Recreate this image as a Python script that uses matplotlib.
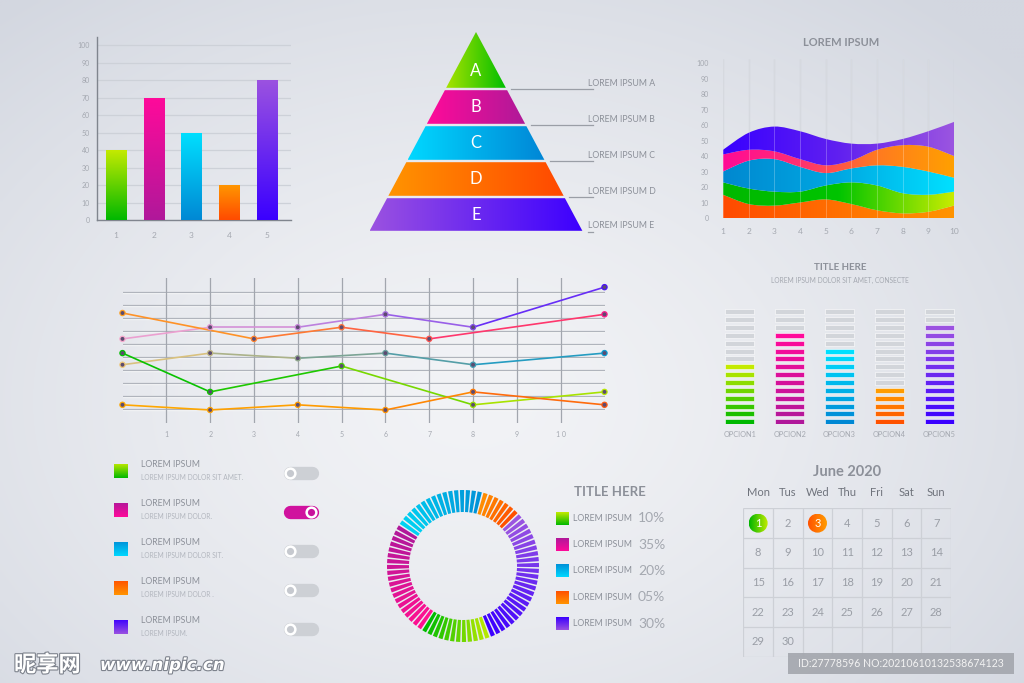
import numpy as np
import matplotlib
matplotlib.use('Agg')
import matplotlib.pyplot as plt
from matplotlib.colors import LinearSegmentedColormap, to_rgb
from matplotlib.patches import Polygon, Rectangle, PathPatch, Circle
from matplotlib.path import Path
from matplotlib.collections import LineCollection
import matplotlib.patheffects as pe

plt.rcParams['font.family'] = ['Lato', 'DejaVu Sans']

# ---------------- data ----------------
bar_cats = [1, 2, 3, 4, 5]
bar_vals = [40, 70, 50, 20, 80]

pyr_letters = ['A', 'B', 'C', 'D', 'E']
pyr_labels = ['LOREM IPSUM A', 'LOREM IPSUM B', 'LOREM IPSUM C', 'LOREM IPSUM D', 'LOREM IPSUM E']

stream_x = [1, 2, 3, 4, 5, 6, 7, 8, 9, 10]
stream_red = [15, 9, 8, 10, 12, 9, 5, 3, 4, 8]
stream_green = [8, 10, 9, 7, 9, 14, 16, 13, 11, 9]
stream_blue = [7, 18, 21, 16, 8, 9, 13, 17, 15, 9]
stream_pink = [11, 7, 5, 5, 5, 5, 10, 14, 16, 14]
stream_violet = [3, 11, 16, 18, 17, 11, 4, 4, 10, 22]

line_ticks = [1, 2, 3, 4, 5, 6, 7, 8, 9, 10]
line_tick_labels = ['1', '2', '3', '4', '5', '6', '7', '8', '9', '1 0']
l1_x = [0, 2, 4, 6, 8, 11]
l1_y = [6.4, 7.3, 7.3, 8.3, 7.3, 10.4]
l2_x = [0, 3, 5, 7, 11]
l2_y = [8.4, 6.4, 7.3, 6.4, 8.3]
l3_x = [0, 2, 4, 6, 8, 11]
l3_y = [4.4, 5.3, 4.9, 5.3, 4.4, 5.3]
l4_x = [0, 2, 5, 8, 11]
l4_y = [5.3, 2.3, 4.3, 1.3, 2.3]
l5_x = [0, 2, 4, 6, 8, 11]
l5_y = [1.3, 0.9, 1.3, 0.9, 2.3, 1.3]

eq_labels = ['OPCION1', 'OPCION2', 'OPCION3', 'OPCION4', 'OPCION5']
eq_filled = [8, 12, 10, 5, 13]
eq_rows = 15

list_titles = ['LOREM IPSUM'] * 5
list_subs = ['LOREM IPSUM DOLOR SIT AMET.', 'LOREM IPSUM DOLOR.', 'LOREM IPSUM DOLOR SIT.',
             'LOREM IPSUM DOLOR .', 'LOREM IPSUM.']
list_on = [False, True, False, False, False]

# ring segments, clockwise from ~1 o'clock: orange, violet, green, magenta, cyan
donut_counts = [7, 25, 12, 20, 16]
donut_labels = ['LOREM IPSUM'] * 5
donut_pcts = [10, 35, 20, 5, 30]

cal_title = 'June 2020'
cal_heads = ['Mon', 'Tus', 'Wed', 'Thu', 'Fri', 'Sat', 'Sun']
cal_days = 30
cal_marked = {1: ['#00b400', '#c4ec00'], 3: ['#ff5200', '#ff9c00']}

# ---------------- colours (bottom/left first) ----------------
GREEN = ['#00b800', '#c4ea00']
MAGENTA = ['#b0189a', '#ff0a9a']
BLUE = ['#0088d4', '#00e0ff']
ORANGE = ['#ff4a00', '#ff9600']
VIOLET = ['#3a00ff', '#9b52e0']
TXT = '#8c9099'
LIGHT = '#a4a8b0'

W, H = 1024, 683
fig = plt.figure(figsize=(W / 100, H / 100), dpi=100)


def box(x0, y0, x1, y1, **kw):
    return fig.add_axes([x0 / W, 1 - y1 / H, (x1 - x0) / W, (y1 - y0) / H], **kw)


def ftext(x, y, s, **kw):
    return fig.text(x / W, 1 - y / H, s, **kw)


def cmap_of(colors):
    return LinearSegmentedColormap.from_list('c', colors)


def grad(ax, clip, colors, extent, horizontal=False, z=3):
    g = np.linspace(0, 1, 256)
    arr = g[None, :] if horizontal else g[:, None]
    im = ax.imshow(arr, cmap=cmap_of(colors), extent=extent, origin='lower',
                   aspect='auto', interpolation='bilinear', zorder=z)
    im.set_clip_path(clip)
    return im


# background
bg = fig.add_axes([0, 0, 1, 1], zorder=-10)
yy, xx = np.mgrid[0:H:4, 0:W:4]
d = np.clip(np.sqrt(((xx - 470) / 720) ** 2 + ((yy - 400) / 520) ** 2), 0, 1)
c_in, c_out = np.array(to_rgb('#f2f3f6')), np.array(to_rgb('#d3d7e0'))
bg.imshow(c_in + (c_out - c_in) * (d[..., None] ** 1.4), extent=[0, W, H, 0],
          aspect='auto', interpolation='bilinear')
bg.set_xlim(0, W)
bg.set_ylim(H, 0)
bg.axis('off')

# ---------------- bar chart ----------------
ax1 = box(97, 37, 291, 220)
ax1.patch.set_alpha(0)
bars = ax1.bar(bar_cats, bar_vals, width=0.53, color='none', zorder=3)
for b, cols in zip(bars, [GREEN, MAGENTA, BLUE, ORANGE, VIOLET]):
    grad(ax1, b, cols, [b.get_x(), b.get_x() + b.get_width(), 0, b.get_height()])
ax1.set_xlim(0.497, 5.636)
ax1.set_ylim(0, 104.6)
ax1.set_yticks(range(0, 101, 10))
ax1.set_xticks(bar_cats)
ax1.yaxis.grid(True, color='#cdd1d8', lw=0.9)
ax1.set_axisbelow(True)
for s in ['top', 'right']:
    ax1.spines[s].set_visible(False)
for s in ['left', 'bottom']:
    ax1.spines[s].set_color('#80858e')
    ax1.spines[s].set_linewidth(1.0)
ax1.tick_params(length=0, labelsize=5, labelcolor=LIGHT, pad=5)
ax1.tick_params(axis='x', pad=9, labelsize=6)

# ---------------- pyramid ----------------
ax2 = box(369, 32, 583, 232)
ax2.axis('off')
edges = [0, 0.285, 0.465, 0.645, 0.825, 1.0]
pyr_cols = [['#a8e200', '#00be00'], ['#ff0a9a', '#ae1a98'], ['#00d8ff', '#0086d6'],
            ['#ff9400', '#ff4800'], ['#9b52e0', '#3c00ff']]
for i, (L, lab) in enumerate(zip(pyr_letters, pyr_labels)):
    t = edges[i] + (0.006 if i else 0)
    b = edges[i + 1] - 0.006
    poly = Polygon([(-t, t), (t, t), (b, b), (-b, b)], closed=True, fc='none', ec='none')
    ax2.add_patch(poly)
    grad(ax2, poly, pyr_cols[i], [-b, b, b, t], horizontal=True)
    yc = 0.195 if i == 0 else (edges[i] + edges[i + 1]) / 2
    ax2.text(0, yc, L, color='white', fontsize=12, ha='center', va='center', zorder=5)
    ye = edges[i + 1]
    ax2.plot([ye + 0.045, 1.093], [ye, ye], color='#9a9ea6', lw=0.9, clip_on=False)
    ax2.text(1.047, ye - 0.03, lab, color=TXT, fontsize=6.3, ha='left', va='center')
ax2.set_xlim(-1, 1)
ax2.set_ylim(1, 0)

# ---------------- stream chart ----------------
ax3 = box(723, 59, 954, 218)
ax3.patch.set_alpha(0)


def smooth_band(xs, lo, hi):
    def bez(px, py):
        pts = np.column_stack([px, py]).astype(float)
        n = len(pts)
        out = [pts[0]]
        for i in range(n - 1):
            p0, p1 = pts[max(i - 1, 0)], pts[i]
            p2, p3 = pts[i + 1], pts[min(i + 2, n - 1)]
            out += [p1 + (p2 - p0) / 6, p2 - (p3 - p1) / 6, p2]
        return out
    up = bez(xs, hi)
    dn = bez(xs[::-1], lo[::-1])
    verts = up + dn + [up[0]]
    codes = ([Path.MOVETO] + [Path.CURVE4] * (len(up) - 1) + [Path.LINETO] +
             [Path.CURVE4] * (len(dn) - 1) + [Path.CLOSEPOLY])
    return Path(verts, codes)


ax3.vlines(stream_x, 0, 102.6, color='#c9cdd5', lw=0.9, zorder=1)
layers = [stream_red, stream_green, stream_blue, stream_pink, stream_violet]
layer_cols = [['#ff4a00', '#ff7000', '#ff9400'],
              ['#00b800', '#00c400', '#c8ec00'],
              ['#0088d0', '#00a8e2', '#00e0ff'],
              ['#ff0a96', '#ff3070', '#ff7a20', '#ffa000'],
              ['#3800ff', '#6020f0', '#9b55e0']]
xs = np.array(stream_x, float)
base = np.zeros(len(xs))
for vals, cols in zip(layers, layer_cols):
    top = base + np.array(vals, float)
    patch = PathPatch(smooth_band(xs, base, top), fc='none', ec='none')
    ax3.add_patch(patch)
    grad(ax3, patch, cols, [1, 10, 0, 70], horizontal=True, z=2)
    base = top
ax3.vlines(stream_x, 0, 102.6, color='white', lw=0.7, alpha=0.25, zorder=4)
ax3.set_xlim(1, 10)
ax3.set_ylim(0, 102.6)
ax3.set_yticks(range(0, 101, 10))
ax3.set_xticks(stream_x)
for s in ax3.spines.values():
    s.set_visible(False)
ax3.tick_params(length=0, labelsize=5, labelcolor=LIGHT, pad=10)
ax3.tick_params(axis='x', labelsize=6, pad=7)
ftext(841, 43, 'LOREM IPSUM', fontsize=8, fontweight='bold', color=TXT, ha='center', va='center')

# ---------------- line chart ----------------
ax4 = box(122.5, 278, 604.5, 423)
ax4.patch.set_alpha(0)
for yv in range(1, 11):
    ax4.axhline(yv - 0.09, color='white', lw=0.9, alpha=0.8, zorder=1)
    ax4.axhline(yv, color='#b0b4bc', lw=0.9, zorder=1)
for xv in line_ticks:
    ax4.axvline(xv, color='#a2a6ae', lw=0.9, zorder=1)
series = [(l1_x, l1_y, ['#f7a8cc', '#b67ce0', '#4a10ff']),
          (l2_x, l2_y, ['#ffa020', '#ff6a3a', '#ff1a8a']),
          (l3_x, l3_y, ['#f0c878', '#70a098', '#0a9ad0']),
          (l4_x, l4_y, ['#00c000', '#20c800', '#90dc00', '#b8e800']),
          (l5_x, l5_y, ['#ffaa00', '#ff9800', '#ff5a10'])]
for sx, sy, cols in series:
    cm = cmap_of(cols)
    pts = np.column_stack([sx, sy])
    segs = np.stack([pts[:-1], pts[1:]], axis=1)
    mids = (pts[:-1, 0] + pts[1:, 0]) / 2 / 11
    ax4.add_collection(LineCollection(segs, colors=cm(mids), lw=1.2, zorder=3, clip_on=False))
    ax4.scatter(sx, sy, s=14, c='#5c4b70', edgecolors=cm(np.array(sx) / 11), linewidths=0.9,
                zorder=4, clip_on=False)
ax4.set_xlim(0, 11)
ax4.set_ylim(-0.106, 11.108)
ax4.set_xticks(line_ticks, line_tick_labels)
ax4.set_yticks([])
for s in ax4.spines.values():
    s.set_visible(False)
ax4.tick_params(length=0, labelsize=5, labelcolor=LIGHT, pad=6)

# ---------------- equalizer bars ----------------
ax5 = box(715, 309.3, 964, 424.3)
ax5.patch.set_alpha(0)
eq_cols = [GREEN, MAGENTA, BLUE, ['#ff5200', '#ff9c00'], VIOLET]
for i, (n, cols) in enumerate(zip(eq_filled, eq_cols)):
    cm = cmap_of(cols)
    colors = [cm(k / (n - 1)) if k < n else '#d2d5da' for k in range(eq_rows)]
    ax5.bar([i] * eq_rows, [0.64] * eq_rows, bottom=list(range(eq_rows)), width=0.58,
            color=colors, edgecolor='white', lw=0.4)
ax5.set_xlim(-0.5, 4.5)
ax5.set_ylim(0, 14.64)
ax5.set_xticks(range(5), eq_labels)
ax5.set_yticks([])
for s in ax5.spines.values():
    s.set_visible(False)
ax5.tick_params(length=0, labelsize=5.3, labelcolor=LIGHT, pad=5)
ftext(840, 268, 'TITLE HERE', fontsize=7, fontweight='bold', color=TXT, ha='center', va='center')
ftext(840, 280, 'LOREM IPSUM DOLOR SIT AMET, CONSECTE', fontsize=4.8, color=LIGHT,
      ha='center', va='center')

# ---------------- list with toggles ----------------
ax6 = box(100, 455, 350, 645)
ax6.axis('off')
sq_cols = [GREEN, ['#ff0a9a', '#b0189a'], ['#00d8ff', '#0090d8'], ['#ff9400', '#ff5000'],
           ['#9b52e0', '#3a00ff']]
for k in range(5):
    sq = Rectangle((114, k - 0.18), 14, 0.36, fc='none', ec='none')
    ax6.add_patch(sq)
    grad(ax6, sq, sq_cols[k], [114, 128, k + 0.18, k - 0.18])
    ax6.text(140.7, k - 0.16, list_titles[k], fontsize=6.3, color=TXT, va='center')
    ax6.text(140.7, k + 0.17, list_subs[k], fontsize=4.8, color='#b2b6be', va='center')
    yt = k + 0.07
    on = list_on[k]
    ax6.plot([290, 311.7], [yt, yt], lw=9.6, solid_capstyle='round',
             color='#d0129e' if on else '#cdd0d5')
    ax6.plot([311 if on else 289.5], [yt], 'o', ms=7, mfc='#c8129c' if on else '#c6c9cf',
             mec='white', mew=1.8)
ax6.set_xlim(100, 350)
ax6.set_ylim(4.47, -0.403)

# ---------------- donut ----------------
ax7 = box(386, 489, 540, 643, projection='polar')
ax7.set_theta_zero_location('N')
ax7.set_theta_direction(-1)
ring_cols = [['#ff8c00', '#ff5000'], ['#9b55e0', '#3c00ff'], ['#b4e800', '#00bc00'],
             ['#ff1090', '#b0189a'], ['#00d2f2', '#0094d8']]
n_seg = sum(donut_counts)
step = 2 * np.pi / n_seg
start = np.deg2rad(15)
thetas, cols = [], []
k = 0
for cnt, cp in zip(donut_counts, ring_cols):
    cm = cmap_of(cp)
    for j in range(cnt):
        thetas.append(start + (k + 0.5) * step)
        cols.append(cm(j / (cnt - 1)))
        k += 1
ax7.bar(thetas, 22, width=step * 0.72, bottom=54, color=cols, edgecolor='none')
ax7.set_ylim(0, 77)
ax7.axis('off')

# donut legend
ax8 = box(550, 500, 680, 640)
ax8.axis('off')
leg_cols = [GREEN, ['#ff0a9a', '#b0189a'], ['#00d8ff', '#0090d8'], ['#ff9400', '#ff5000'],
            ['#9b52e0', '#3a00ff']]
for k in range(5):
    sq = Rectangle((556, k - 0.247), 13, 0.494, fc='none', ec='none')
    ax8.add_patch(sq)
    grad(ax8, sq, leg_cols[k], [556, 569, k + 0.247, k - 0.247])
    ax8.text(573, k, donut_labels[k], fontsize=6.3, color=TXT, va='center')
    ax8.text(638, k, f'{donut_pcts[k]:02d}%', fontsize=10, color=LIGHT, va='center')
ax8.set_xlim(550, 680)
ax8.set_ylim(4.627, -0.696)
ftext(610, 492, 'TITLE HERE', fontsize=9.5, fontweight='bold', color=TXT, ha='center', va='center')

# ---------------- calendar ----------------
ax9 = box(743.3, 508.3, 951, 656.7)
ax9.axis('off')
ax9.vlines(range(8), 0, 5, color='#cdd0d6', lw=0.9)
ax9.hlines(range(6), 0, 7, color='#cdd0d6', lw=0.9)
for d in range(1, cal_days + 1):
    r, c = divmod(d - 1, 7)
    if d in cal_marked:
        circ = Circle((c + 0.5, r + 0.5), 0.32, fc='none', ec='none')
        ax9.add_patch(circ)
        grad(ax9, circ, cal_marked[d], [c + 0.18, c + 0.82, r + 0.82, r + 0.18], horizontal=True)
        ax9.text(c + 0.5, r + 0.5, str(d), fontsize=8, color='white', ha='center', va='center',
                 zorder=5)
    else:
        ax9.text(c + 0.5, r + 0.5, str(d), fontsize=8, color='#9a9ea6', ha='center',
                 va='center')
for c, h in enumerate(cal_heads):
    ax9.text(c + 0.5, -0.52, h, fontsize=8, color='#6f737c', ha='center', va='center')
ax9.text(3.5, -1.22, cal_title, fontsize=10.5, fontweight='bold', color=TXT, ha='center',
         va='center')
ax9.set_xlim(0, 7)
ax9.set_ylim(5, 0)

# ---------------- watermark ----------------
stroke = [pe.withStroke(linewidth=1.6, foreground='#7d828c')]
ftext(14, 665, '昵享网', fontsize=16, family=['Noto Sans CJK SC', 'DejaVu Sans'],
      fontweight='bold', style='italic', color='white', va='center', path_effects=stroke)
ftext(100, 665, 'www.nipic.cn', fontsize=12, family=['DejaVu Sans'], fontweight='bold',
      style='italic', color='white', va='center', path_effects=stroke)
fig.patches.append(Rectangle((788 / W, 1 - 674 / H), 226 / W, 21 / H, transform=fig.transFigure,
                             fc='#a3a6ad', ec='none', alpha=0.9))
ftext(901, 663.5, 'ID:27778596 NO:20210610132538674123', fontsize=7.6, color='#f2f2f2',
      ha='center', va='center')

fig.savefig('out.png', dpi=100)
